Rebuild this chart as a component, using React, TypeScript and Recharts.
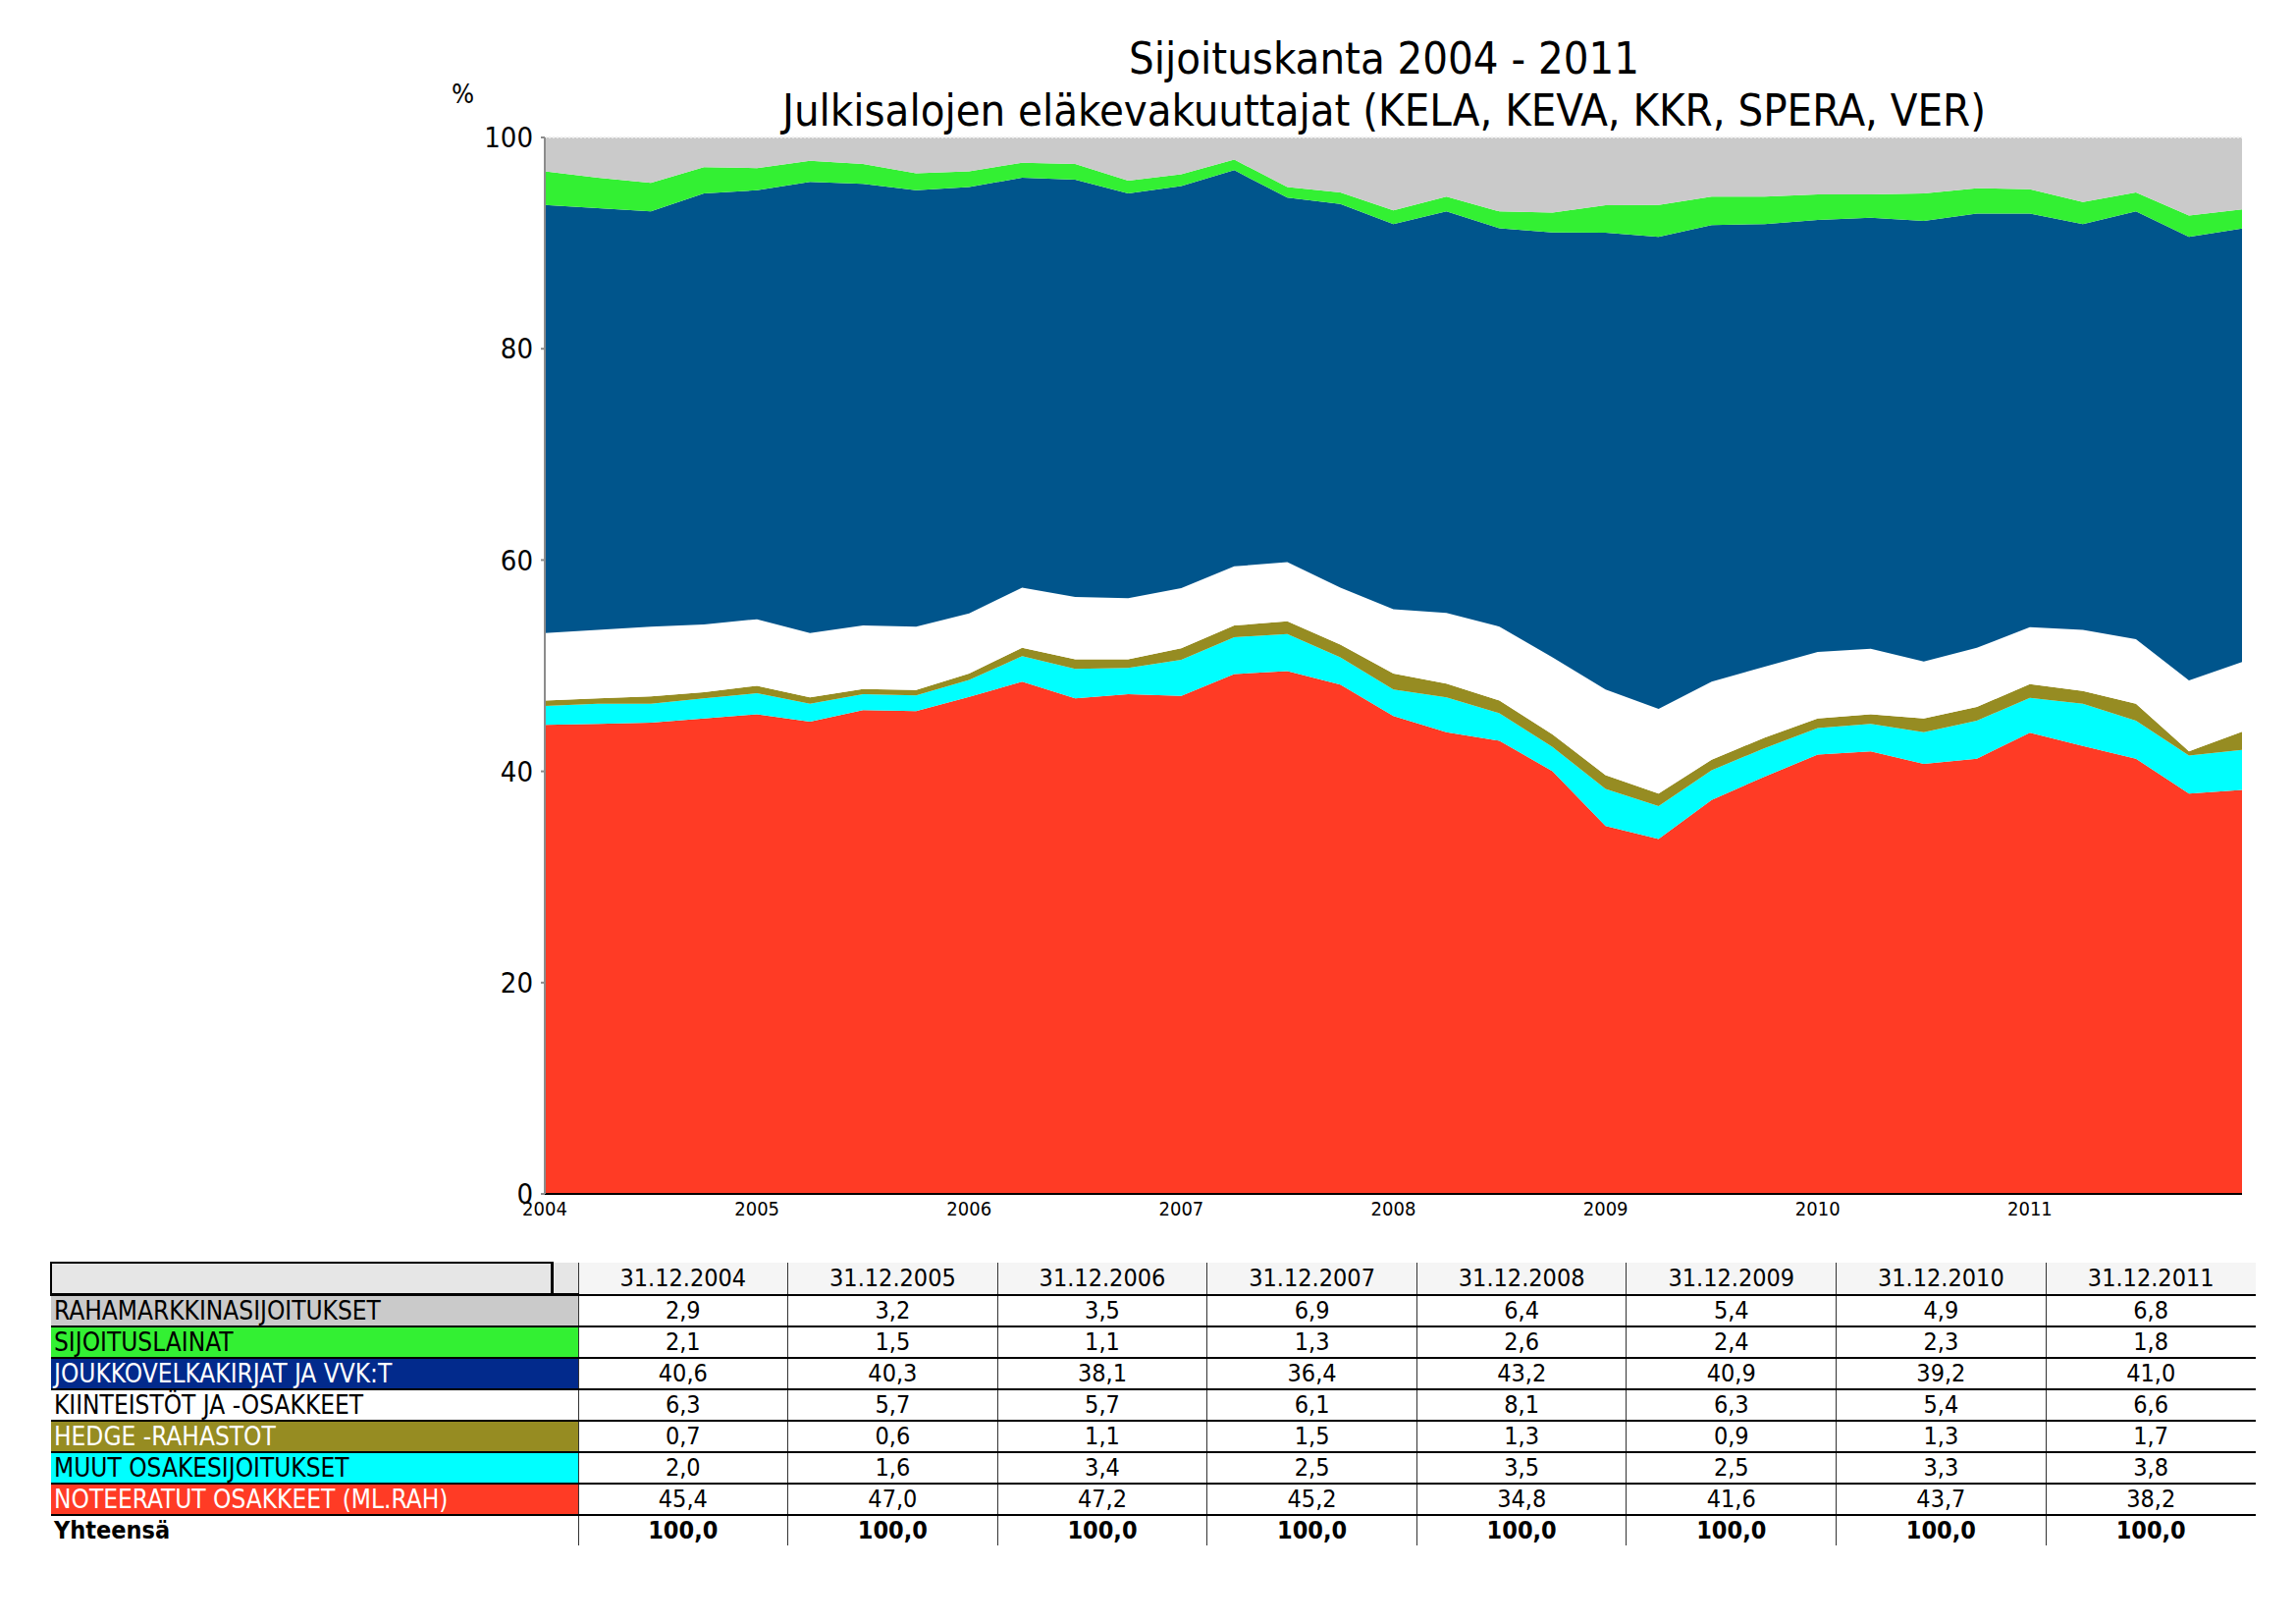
import React from "react";
import { AreaChart, Area, XAxis, YAxis, ReferenceLine } from "recharts";

// quarterly points, 31.12.2003 ... 31.12.2011 (33 points)
const YEAR_TICKS = ["2004", "2005", "2006", "2007", "2008", "2009", "2010", "2011"];
const TABLE_DATES = [
  "31.12.2004", "31.12.2005", "31.12.2006", "31.12.2007",
  "31.12.2008", "31.12.2009", "31.12.2010", "31.12.2011",
];

const noteeratut = [44.4, 44.5, 44.6, 45.0, 45.4, 44.7, 45.8, 45.7, 47.0, 48.5, 46.9, 47.3, 47.2, 49.2, 49.5, 48.2, 45.2, 43.7, 42.9, 40.0, 34.8, 33.6, 37.3, 39.5, 41.6, 41.9, 40.7, 41.2, 43.7, 42.4, 41.2, 37.9, 38.2];
const muut = [1.8, 1.9, 1.8, 1.9, 2.0, 1.7, 1.5, 1.5, 1.6, 2.4, 2.8, 2.5, 3.4, 3.5, 3.5, 2.6, 2.5, 3.3, 2.6, 2.3, 3.5, 3.1, 2.8, 2.7, 2.5, 2.6, 3.0, 3.6, 3.3, 4.0, 3.6, 3.6, 3.8];
const hedge = [0.5, 0.5, 0.7, 0.6, 0.7, 0.6, 0.5, 0.5, 0.6, 0.8, 0.9, 0.8, 1.1, 1.1, 1.2, 1.2, 1.5, 1.3, 1.2, 1.2, 1.3, 1.2, 1.0, 1.0, 0.9, 0.9, 1.3, 1.3, 1.3, 1.2, 1.6, 0.4, 1.7];
const kiinteistot = [6.4, 6.5, 6.6, 6.4, 6.3, 6.1, 6.0, 6.0, 5.7, 5.7, 5.9, 5.8, 5.7, 5.6, 5.6, 5.4, 6.1, 6.7, 7.0, 7.3, 8.1, 8.0, 7.4, 6.7, 6.3, 6.2, 5.4, 5.6, 5.4, 5.8, 6.1, 6.7, 6.6];
const joukkovelka = [40.5, 39.9, 39.3, 40.8, 40.6, 42.7, 41.8, 41.3, 40.3, 38.8, 39.5, 38.3, 38.1, 37.5, 34.5, 36.3, 36.4, 38.0, 37.7, 40.2, 43.2, 44.7, 43.2, 41.9, 40.9, 40.8, 41.7, 41.1, 39.2, 38.4, 40.5, 42.0, 41.0];
const lainat = [3.2, 2.9, 2.7, 2.5, 2.1, 2.0, 1.9, 1.6, 1.5, 1.4, 1.5, 1.2, 1.1, 1.0, 1.0, 1.1, 1.3, 1.4, 1.6, 1.9, 2.6, 3.0, 2.7, 2.6, 2.4, 2.2, 2.6, 2.4, 2.3, 2.1, 1.8, 2.0, 1.8];
const rahamarkkina = [3.2, 3.8, 4.3, 2.8, 2.9, 2.2, 2.5, 3.4, 3.2, 2.4, 2.5, 4.1, 3.5, 2.1, 4.7, 5.2, 6.9, 5.6, 7.0, 7.1, 6.4, 6.4, 5.6, 5.6, 5.4, 5.4, 5.3, 4.8, 4.9, 6.1, 5.2, 7.4, 6.8];
const yhteensa = [100, 100, 100, 100, 100, 100, 100, 100];

// bottom to top
const SERIES = [
  { key: "note", label: "NOTEERATUT OSAKKEET (ML.RAH)", values: noteeratut, fill: "#FF3B25", cell: "#FF3B25", text: "#fff" },
  { key: "muut", label: "MUUT OSAKESIJOITUKSET", values: muut, fill: "#00FFFF", cell: "#00FFFF", text: "#000" },
  { key: "hedge", label: "HEDGE -RAHASTOT", values: hedge, fill: "#968C22", cell: "#968C22", text: "#fff" },
  { key: "kiint", label: "KIINTEISTÖT JA -OSAKKEET", values: kiinteistot, fill: "#FFFFFF", cell: "#FFFFFF", text: "#000" },
  { key: "jvk", label: "JOUKKOVELKAKIRJAT JA VVK:T", values: joukkovelka, fill: "#00558C", cell: "#022A8C", text: "#fff" },
  { key: "laina", label: "SIJOITUSLAINAT", values: lainat, fill: "#33F033", cell: "#33F033", text: "#000" },
  { key: "raha", label: "RAHAMARKKINASIJOITUKSET", values: rahamarkkina, fill: "#CACACA", cell: "#CACACA", text: "#000" },
];

const data = noteeratut.map((_, i) => {
  const row: Record<string, number> = { i };
  SERIES.forEach((s) => (row[s.key] = s.values[i]));
  return row;
});

const FONT = "'DejaVu Sans Condensed', 'DejaVu Sans', sans-serif";
const fmt = (v: number) => v.toFixed(1).replace(".", ",");

function DataTable() {
  const rows = [...SERIES].reverse();
  const border = "2px solid #000";
  const cellBase: React.CSSProperties = {
    height: 30,
    padding: 0,
    lineHeight: "30px",
    textAlign: "center",
    borderLeft: "1px solid #333",
    borderBottom: border,
  };
  const labelCell: React.CSSProperties = {
    height: 30,
    lineHeight: "30px",
    padding: "0 0 0 3px",
    fontSize: 26,
    whiteSpace: "nowrap",
  };
  return (
    <table
      style={{
        position: "absolute",
        left: 51,
        top: 1285,
        width: 2246,
        borderCollapse: "collapse",
        tableLayout: "fixed",
        fontFamily: FONT,
        fontSize: 25,
        color: "#000",
      }}
    >
      <colgroup>
        <col style={{ width: 510 }} />
        <col style={{ width: 27 }} />
        {TABLE_DATES.map((d) => (
          <col key={d} style={{ width: 213.6 }} />
        ))}
      </colgroup>
      <tbody>
        <tr>
          <td style={{ background: "#E6E6E6", height: 28, borderTop: "2px solid #000", borderLeft: "2px solid #000", borderRight: "3px solid #000", borderBottom: "3px solid #000" }} />
          <td style={{ background: "#E6E6E6", borderBottom: "3px solid #000" }} />
          {TABLE_DATES.map((d) => (
            <td key={d} style={{ ...cellBase, height: 28, lineHeight: "28px", background: "#F5F5F5" }}>{d}</td>
          ))}
        </tr>
        {rows.map((s) => (
          <tr key={s.key}>
            <td colSpan={2} style={{ ...labelCell, background: s.cell, color: s.text, borderBottom: border }}>
              {s.label}
            </td>
            {TABLE_DATES.map((d, k) => (
              <td key={d} style={cellBase}>{fmt(s.values[4 * (k + 1)])}</td>
            ))}
          </tr>
        ))}
        <tr>
          <td colSpan={2} style={{ ...labelCell, fontSize: 25, fontWeight: "bold" }}>Yhteensä</td>
          {yhteensa.map((v, k) => (
            <td key={k} style={{ ...cellBase, borderBottom: "none", fontWeight: "bold" }}>{fmt(v)}</td>
          ))}
        </tr>
      </tbody>
    </table>
  );
}

export default function App() {
  return (
    <div style={{ position: "absolute", left: 0, top: 0, width: 2339, height: 1653, background: "#fff", fontFamily: FONT }}>
      <div style={{ position: "absolute", left: 0, width: 2820, top: 33, textAlign: "center", fontSize: 45, lineHeight: "53px", color: "#000" }}>
        Sijoituskanta 2004 - 2011
        <br />
        Julkisalojen eläkevakuuttajat (KELA, KEVA, KKR, SPERA, VER)
      </div>
      <div style={{ position: "absolute", left: 460, top: 80, fontSize: 27 }}>%</div>
      <AreaChart
        width={2339}
        height={1270}
        data={data}
        stackOffset="expand"
        margin={{ top: 140, right: 55, left: 475, bottom: 14 }}
        style={{ position: "absolute", left: 0, top: 0 }}
      >
        <XAxis
          dataKey="i"
          type="number"
          domain={[0, 32]}
          ticks={[0, 4, 8, 12, 16, 20, 24, 28]}
          tickFormatter={(v: number) => YEAR_TICKS[v / 4]}
          axisLine={{ stroke: "#000", strokeWidth: 2 }}
          tickLine={false}
          tick={{ fill: "#000", fontSize: 20, fontFamily: FONT }}
          tickMargin={2}
          height={40}
          interval={0}
        />
        <YAxis
          type="number"
          domain={[0, 1]}
          ticks={[0, 0.2, 0.4, 0.6, 0.8, 1]}
          tickFormatter={(v: number) => String(Math.round(v * 100))}
          axisLine={{ stroke: "#8c8c8c", strokeWidth: 2 }}
          tickLine={{ stroke: "#8c8c8c", strokeWidth: 2 }}
          tickSize={4}
          tickMargin={8}
          tick={{ fill: "#000", fontSize: 29, fontFamily: FONT }}
          width={80}
          allowDataOverflow
        />
        {SERIES.map((s) => (
          <Area
            key={s.key}
            type="linear"
            dataKey={s.key}
            stackId="1"
            stroke="none"
            fill={s.fill}
            fillOpacity={1}
            isAnimationActive={false}
            dot={false}
            activeDot={false}
          />
        ))}
        <ReferenceLine y={1} stroke="#eeeeee" strokeDasharray="2 2" strokeWidth={2} />
      </AreaChart>
      <DataTable />
    </div>
  );
}
